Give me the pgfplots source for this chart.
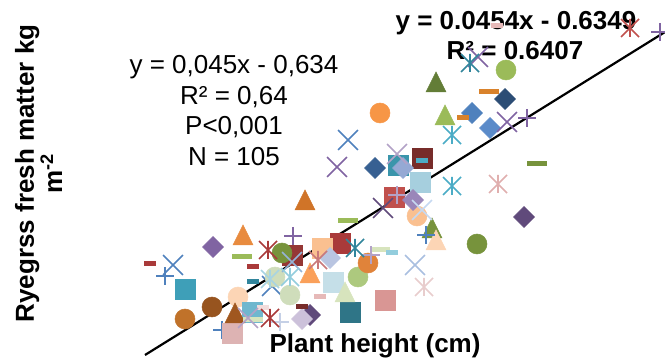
\documentclass[border=0pt]{standalone}
\usepackage{pgfplots}
\pgfplotsset{compat=1.18}
\usepackage{fontspec}
\setmainfont{Liberation Sans}

\pgfdeclareplotmark{xstar}{%
  \pgfpathmoveto{\pgfqpoint{0pt}{\pgfplotmarksize}}\pgfpathlineto{\pgfqpoint{0pt}{-\pgfplotmarksize}}%
  \pgfpathmoveto{\pgfqpoint{-\pgfplotmarksize}{-\pgfplotmarksize}}\pgfpathlineto{\pgfqpoint{\pgfplotmarksize}{\pgfplotmarksize}}%
  \pgfpathmoveto{\pgfqpoint{-\pgfplotmarksize}{\pgfplotmarksize}}\pgfpathlineto{\pgfqpoint{\pgfplotmarksize}{-\pgfplotmarksize}}%
  \pgfusepathqstroke}
\pgfdeclareplotmark{rhomb*}{%
  \pgfpathmoveto{\pgfqpoint{0pt}{\pgfplotmarksize}}\pgfpathlineto{\pgfqpoint{\pgfplotmarksize}{0pt}}%
  \pgfpathlineto{\pgfqpoint{0pt}{-\pgfplotmarksize}}\pgfpathlineto{\pgfqpoint{-\pgfplotmarksize}{0pt}}%
  \pgfpathclose\pgfusepathqfillstroke}
\pgfdeclareplotmark{tri*}{%
  \pgfpathmoveto{\pgfqpoint{0pt}{\pgfplotmarksize}}\pgfpathlineto{\pgfqpoint{\pgfplotmarksize}{-\pgfplotmarksize}}%
  \pgfpathlineto{\pgfqpoint{-\pgfplotmarksize}{-\pgfplotmarksize}}%
  \pgfpathclose\pgfusepathqfillstroke}
\pgfdeclareplotmark{bar}{%
  \pgfpathrectangle{\pgfqpoint{-\pgfplotmarksize}{-2.5pt}}{\pgfqpoint{2\pgfplotmarksize}{5pt}}%
  \pgfusepathqfill}

\definecolor{blu}{HTML}{4F81BD}
\definecolor{dblu}{HTML}{2C4D75}
\definecolor{dblu2}{HTML}{376092}
\definecolor{mblu}{HTML}{5B8BC9}
\definecolor{lblu}{HTML}{A9BFE0}
\definecolor{llblu}{HTML}{C6D9F1}
\definecolor{lavb}{HTML}{95A9D4}
\definecolor{lavb2}{HTML}{B9C5E1}
\definecolor{mblu2}{HTML}{95B3D7}
\definecolor{red}{HTML}{C0504D}
\definecolor{dred}{HTML}{A93A3A}
\definecolor{ddred}{HTML}{772C2A}
\definecolor{dred2}{HTML}{953735}
\definecolor{grn}{HTML}{9BBB59}
\definecolor{oliv}{HTML}{77933C}
\definecolor{doliv}{HTML}{637D37}
\definecolor{lgrn}{HTML}{D7E4BD}
\definecolor{lgbl}{HTML}{CFDDBB}
\definecolor{mgrn}{HTML}{ADC97E}
\definecolor{pur}{HTML}{8064A2}
\definecolor{dpur}{HTML}{604A7B}
\definecolor{mpur}{HTML}{9A86B9}
\definecolor{lpur}{HTML}{B3A2C7}
\definecolor{llpur}{HTML}{CCC1DA}
\definecolor{lavp}{HTML}{C5D0E6}
\definecolor{aqu}{HTML}{4BACC6}
\definecolor{daqu}{HTML}{31859C}
\definecolor{taqu}{HTML}{3A95AB}
\definecolor{ddaqu}{HTML}{2F7587}
\definecolor{laqu}{HTML}{93CDDD}
\definecolor{laqu2}{HTML}{A8D4E2}
\definecolor{sqblu}{HTML}{A6CFDE}
\definecolor{sqblu2}{HTML}{C5DFE8}
\definecolor{sqblu3}{HTML}{6FB7CE}
\definecolor{aqu2}{HTML}{3E9FB8}
\definecolor{org}{HTML}{F79646}
\definecolor{dorg}{HTML}{E0833A}
\definecolor{dorg2}{HTML}{D07428}
\definecolor{org2}{HTML}{E88B3F}
\definecolor{org3}{HTML}{FAA05A}
\definecolor{orgd}{HTML}{D9822B}
\definecolor{brn}{HTML}{97541F}
\definecolor{brn2}{HTML}{C0722A}
\definecolor{brn3}{HTML}{A0571F}
\definecolor{pch}{HTML}{FAC090}
\definecolor{lpch}{HTML}{FCD5B5}
\definecolor{pnk}{HTML}{D99694}
\definecolor{lpnk}{HTML}{E6B9B8}
\definecolor{llpnk}{HTML}{F2DCDB}
\definecolor{pnk2}{HTML}{DDB3B3}
\definecolor{pnk3}{HTML}{E0AFAE}
\definecolor{pnk4}{HTML}{E8CDCD}
\definecolor{salm}{HTML}{C9787A}

\pgfplotsset{
  mC/.style={only marks, mark=*, mark size=10pt, color=#1, line width=0.5pt},
  mS/.style={only marks, mark=square*, mark size=10pt, color=#1, line width=0.5pt},
  mD/.style={only marks, mark=rhomb*, mark size=10.5pt, color=#1, line width=0.5pt},
  mT/.style={only marks, mark=tri*, mark size=10pt, color=#1, line width=0.5pt},
  mX/.style={only marks, mark=x, mark size=14pt, color=#1, line width=1.7pt},
  mP/.style={only marks, mark=+, mark size=9pt, color=#1, line width=1.7pt},
  mA/.style={only marks, mark=xstar, mark size=9pt, color=#1, line width=1.7pt},
  mH/.style={only marks, mark=bar, mark size=10pt, color=#1},
  mh/.style={only marks, mark=bar, mark size=6pt, color=#1},
}

\begin{document}
\begin{tikzpicture}
\begin{axis}[
  name=ax,
  scale only axis, width=665pt, height=362pt,
  xmin=0, xmax=665, ymin=0, ymax=362,
  axis line style={draw=none}, ticks=none,
  clip=false,
  xlabel={Plant height (cm)},
  ylabel={Ryegrss fresh matter kg\\m\textsuperscript{-2}},
  xlabel style={at={(axis description cs:0.564,0.0276)}, anchor=base,
    font=\bfseries\fontsize{26}{30}\selectfont},
  ylabel style={at={(axis description cs:0.058,0.521)}, anchor=center, align=center,
    font=\bfseries\fontsize{26}{27}\selectfont},
]
% background / hidden points
\addplot[mh=lpnk] coordinates {(497,336)};
\addplot[mX=blu] coordinates {(272,76)};
\addplot[mS=dred2] coordinates {(292,107)};
\addplot[mP=blu] coordinates {(222,32)};
\addplot[mD=dpur] coordinates {(310,47)};
\addplot[mh=grn] coordinates {(398,189)};
\addplot[mT=oliv] coordinates {(432,134)};
% circles
\addplot[mC=grn] coordinates {(506,292)};
\addplot[mC=org] coordinates {(380,249)};
\addplot[mC=oliv] coordinates {(477,118)};
\addplot[mC=pch] coordinates {(417,146)};
\addplot[mC=oliv] coordinates {(282,109)};
\addplot[mC=lgbl] coordinates {(275,85)};
\addplot[mC=lgbl] coordinates {(290,67)};
\addplot[mC=mgrn] coordinates {(358,85)};
\addplot[mC=dorg] coordinates {(368,99)};
\addplot[mC=lpch] coordinates {(238,65)};
\addplot[mC=brn] coordinates {(212,55)};
\addplot[mC=brn2] coordinates {(185,43)};
% squares
\addplot[mS=ddred] coordinates {(422,204)};
\addplot[mS=taqu] coordinates {(398,197)};
\addplot[mS=sqblu] coordinates {(420,180)};
\addplot[mS=red] coordinates {(394,165)};
\addplot[mS=dred] coordinates {(340,119)};
\addplot[mS=pch] coordinates {(322,114)};
\addplot[mS=sqblu2] coordinates {(333,80)};
\addplot[mS=ddaqu] coordinates {(350,50)};
\addplot[mS=pnk] coordinates {(385,62)};
\addplot[mS=aqu2] coordinates {(185,73)};
\addplot[mS=sqblu3] coordinates {(252,50)};
\addplot[mS=pnk2] coordinates {(232,29)};
% diamonds
\addplot[mD=dblu] coordinates {(505,263)};
\addplot[mD=blu] coordinates {(472,249)};
\addplot[mD=mblu] coordinates {(490,234)};
\addplot[mD=dblu2] coordinates {(375,194)};
\addplot[mD=lavb] coordinates {(403,194)};
\addplot[mD=mpur] coordinates {(413,162)};
\addplot[mD=dpur] coordinates {(524,145)};
\addplot[mD=pur] coordinates {(213,115)};
\addplot[mD=lavb2] coordinates {(330,104)};
\addplot[mD=llpur] coordinates {(302,43)};
% triangles
\addplot[mT=doliv] coordinates {(436,280)};
\addplot[mT=grn] coordinates {(445,247)};
\addplot[mT=org2] coordinates {(243,127)};
\addplot[mT=dorg2] coordinates {(305,162)};
\addplot[mT=org3] coordinates {(310,89)};
\addplot[mT=lgrn] coordinates {(345,70)};
\addplot[mT=brn3] coordinates {(235,49)};
\addplot[mT=lpch] coordinates {(436,122)};
% dashes
\addplot[mH=oliv] coordinates {(537,198)};
\addplot[mH=orgd] coordinates {(489,270)};
\addplot[mh=orgd] coordinates {(463,244)};
\addplot[mH=grn] coordinates {(348,141)};
\addplot[mH=grn] coordinates {(242,105)};
\addplot[mh=dred] coordinates {(150,98)};
\addplot[mh=dred] coordinates {(253,95)};
\addplot[mh=daqu] coordinates {(253,80)};
\addplot[mh=lpnk] coordinates {(320,65)};
\addplot[mh=ddred] coordinates {(302,55)};
\addplot[mh=aqu] coordinates {(422,201)};
\addplot[mH=lgrn] coordinates {(380,112)};
\addplot[mh=laqu] coordinates {(392,109)};
\addplot[mH=lgrn] coordinates {(253,42)};
\addplot[mh=llpnk] coordinates {(263,54)};
% x marks
\addplot[mX=pur] coordinates {(478,305)};
\addplot[mX=pur] coordinates {(507,240)};
\addplot[mX=blu] coordinates {(348,222)};
\addplot[mX=pur] coordinates {(337,195)};
\addplot[mX=lpur] coordinates {(397,208)};
\addplot[mX=dpur] coordinates {(383,154)};
\addplot[mX=llblu] coordinates {(422,152)};
\addplot[mX=lblu] coordinates {(415,97)};
\addplot[mX=blu] coordinates {(173,97)};
\addplot[mX=mblu2] coordinates {(292,100)};
\addplot[mX=lpur] coordinates {(248,44)};
% plus marks
\addplot[mP=pur] coordinates {(660,330)};
\addplot[mP=pur] coordinates {(527,244)};
\addplot[mP=lpur] coordinates {(397,167)};
\addplot[mP=blu] coordinates {(426,127)};
\addplot[mP=pur] coordinates {(293,126)};
\addplot[mP=lpur] coordinates {(371,107)};
\addplot[mP=blu] coordinates {(165,86)};
\addplot[mP=lavp] coordinates {(280,40)};
% asterisks
\addplot[mA=red] coordinates {(630,334)};
\addplot[mA=daqu] coordinates {(470,299)};
\addplot[mA=aqu] coordinates {(452,227)};
\addplot[mA=aqu] coordinates {(452,176)};
\addplot[mA=pnk3] coordinates {(498,178)};
\addplot[mA=pnk4] coordinates {(424,75)};
\addplot[mA=daqu] coordinates {(355,114)};
\addplot[mA=dred] coordinates {(268,112)};
\addplot[mA=laqu] coordinates {(290,85)};
\addplot[mA=laqu2] coordinates {(270,83)};
\addplot[mA=salm] coordinates {(318,102)};
\addplot[mA=dred] coordinates {(270,44)};
% trend line
\addplot[black, line width=2.2pt, no marks] coordinates {(145,7) (665,330)};
% annotations
\node[anchor=base, font=\fontsize{26}{30}\selectfont] at (axis cs:234,288) {y = 0,045x - 0,634};
\node[anchor=base, font=\fontsize{26}{30}\selectfont] at (axis cs:234,257.5) {R² = 0,64};
\node[anchor=base, font=\fontsize{26}{30}\selectfont] at (axis cs:234,227) {P<0,001};
\node[anchor=base, font=\fontsize{26}{30}\selectfont] at (axis cs:234,196.5) {N = 105};
\node[anchor=base, font=\bfseries\fontsize{26}{30}\selectfont] at (axis cs:516,332) {y = 0.0454x - 0.6349};
\node[anchor=base, font=\bfseries\fontsize{26}{30}\selectfont] at (axis cs:515,302) {R² = 0.6407};
\end{axis}
\pgfresetboundingbox
\useasboundingbox (ax.south west) rectangle (ax.north east);
\end{tikzpicture}
\end{document}
